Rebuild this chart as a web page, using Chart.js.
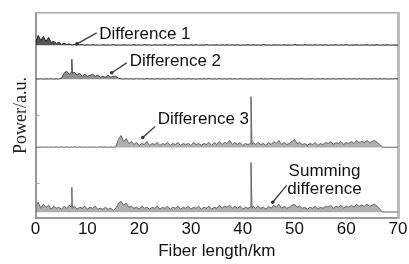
<!DOCTYPE html>
<html>
<head>
<meta charset="utf-8">
<script src="https://cdn.jsdelivr.net/npm/chart.js@4/dist/chart.umd.min.js"></script>
<style>
  html, body { margin: 0; padding: 0; background: #fff; }
  #chart { display: block; }
</style>
</head>
<body>
<canvas id="chart" width="409" height="264"></canvas>
<script>
(function () {
    'use strict';

    // =========================================================================
    // Data (arbitrary units)
    // =========================================================================

    var fiberKm = [
        0, 0.5, 1, 1.5, 2, 2.5, 3, 3.5, 4, 4.5,
        5, 5.5, 6, 6.5, 6.9, 7, 7.1, 7.5, 8, 8.5,
        9, 9.5, 10, 10.5, 11, 11.5, 12, 12.5, 13, 13.5,
        14, 14.5, 15, 15.5, 16, 16.5, 17, 17.5, 18, 18.5,
        19, 19.5, 20, 20.5, 21, 21.5, 22, 22.5, 23, 23.5,
        24, 24.5, 25, 25.5, 26, 26.5, 27, 27.5, 28, 28.5,
        29, 29.5, 30, 30.5, 31, 31.5, 32, 32.5, 33, 33.5,
        34, 34.5, 35, 35.5, 36, 36.5, 37, 37.5, 38, 38.5,
        39, 39.5, 40, 40.5, 41, 41.5, 41.6, 41.8, 42, 42.5,
        43, 43.5, 44, 44.5, 45, 45.5, 46, 46.5, 47, 47.5,
        48, 48.5, 49, 49.5, 50, 50.5, 51, 51.5, 52, 52.5,
        53, 53.5, 54, 54.5, 55, 55.5, 56, 56.5, 57, 57.5,
        58, 58.5, 59, 59.5, 60, 60.5, 61, 61.5, 62, 62.5,
        63, 63.5, 64, 64.5, 65, 65.5, 66, 66.5, 67, 67.5,
        68, 68.5, 69, 69.5, 70
    ];

    var difference1 = [
        3, 10, 5, 9, 4, 8, 3, 4, 2, 3,
        1, 2, 1, 1.5, 0.5, 1, 0.5, 1, 1.5, 0.5,
        0.8, 0.3, 0.6, 0.2, 0.7, 0.3, 0.5, 0.2, 0.6, 0.3,
        0.5, 0.2, 0.7, 0.3, 0.5, 0.2, 0.6, 0.3, 0.5, 0.2,
        0.6, 0.3, 0.5, 0.2, 0.7, 0.3, 0.5, 0.2, 0.6, 0.3,
        0.5, 0.3, 0.6, 0.2, 0.5, 0.3, 0.7, 0.2, 0.5, 0.3,
        0.6, 0.2, 0.5, 0.3, 0.6, 0.2, 0.5, 0.3, 0.7, 0.2,
        0.5, 0.3, 0.6, 0.2, 0.5, 0.3, 0.6, 0.2, 0.5, 0.3,
        0.6, 0.2, 0.5, 0.3, 0.6, 0.3, 0.5, 0.2, 0.6, 0.3,
        0.5, 0.2, 0.7, 0.3, 0.5, 0.2, 0.6, 0.3, 0.5, 0.2,
        0.6, 0.3, 0.5, 0.2, 0.7, 0.3, 0.5, 0.2, 0.6, 0.3,
        0.5, 0.3, 0.6, 0.2, 0.5, 0.3, 0.6, 0.2, 0.5, 0.3,
        0.6, 0.2, 0.5, 0.3, 0.7, 0.2, 0.5, 0.3, 0.6, 0.2,
        0.5, 0.3, 0.6, 0.2, 0.5, 0.3, 0.6, 0.2, 0.5, 0.3,
        0.6, 0.2, 0.5, 0.3, 0.4
    ];

    var difference2 = [
        0.4, 0.2, 0.5, 0.2, 0.4, 0.3, 0.5, 0.2, 0.4, 0.3,
        1, 6, 8, 5, 7, 20, 6, 7, 4, 6,
        3, 5, 3, 4, 5, 3, 4, 2, 3, 2,
        4, 2, 3, 3, 1, 0.5, 0.3, 0.6, 0.3, 0.5,
        0.2, 0.6, 0.3, 0.5, 0.2, 0.7, 0.3, 0.5, 0.2, 0.6,
        0.3, 0.5, 0.2, 0.6, 0.3, 0.5, 0.2, 0.7, 0.3, 0.5,
        0.2, 0.6, 0.3, 0.5, 0.2, 0.6, 0.3, 0.5, 0.2, 0.7,
        0.3, 0.5, 0.2, 0.6, 0.3, 0.5, 0.2, 0.6, 0.3, 0.5,
        0.2, 0.6, 0.3, 0.5, 0.2, 0.5, 0.3, 0.6, 0.2, 0.5,
        0.3, 0.6, 0.2, 0.5, 0.3, 0.7, 0.2, 0.5, 0.3, 0.6,
        0.2, 0.5, 0.3, 0.6, 0.2, 0.5, 0.3, 0.7, 0.2, 0.5,
        0.3, 0.6, 0.2, 0.5, 0.3, 0.6, 0.2, 0.5, 0.3, 0.6,
        0.2, 0.5, 0.3, 0.7, 0.2, 0.5, 0.3, 0.6, 0.2, 0.5,
        0.3, 0.6, 0.2, 0.5, 0.3, 0.6, 0.2, 0.5, 0.3, 0.6,
        0.2, 0.5, 0.3, 0.6, 0.4
    ];

    var difference3 = [
        0.5, 0.2, 0.6, 0.3, 0.5, 0.2, 0.6, 0.3, 0.5, 0.2,
        0.6, 0.3, 0.5, 0.2, 0.4, 0.6, 0.3, 0.5, 0.2, 0.6,
        0.3, 0.5, 0.2, 0.6, 0.3, 0.5, 0.2, 0.6, 0.3, 0.5,
        0.2, 0.6, 0.3, 0.8, 8, 12, 6, 9, 4, 6,
        3, 5, 2, 4, 3, 6, 2, 4, 3, 5,
        2, 4, 3, 5, 2, 4, 3, 5, 2, 4,
        3, 4, 2, 5, 3, 4, 2, 4, 3, 5,
        2, 5, 3, 6, 3, 5, 4, 7, 3, 5,
        3, 5, 2, 4, 3, 4, 51, 3, 5, 3,
        5, 3, 4, 2, 5, 3, 6, 4, 7, 3,
        5, 3, 4, 6, 8, 4, 5, 3, 4, 2,
        4, 3, 5, 2, 4, 3, 5, 4, 6, 3,
        5, 4, 6, 3, 5, 4, 6, 4, 7, 5,
        6, 5, 7, 5, 6, 7, 5, 3, 0.3, 0.2,
        0.2, 0.3, 0.2, 0.3, 0.2
    ];

    var summingDifference = [
        6, 10, 4, 8, 5, 7, 3, 6, 4, 5,
        3, 6, 4, 7, 5, 25, 4, 6, 3, 5,
        4, 6, 3, 5, 4, 6, 3, 4, 3, 5,
        3, 4, 2, 4, 9, 11, 7, 9, 5, 6,
        4, 5, 3, 6, 4, 5, 3, 5, 4, 6,
        3, 5, 4, 6, 3, 5, 4, 6, 3, 5,
        4, 6, 3, 5, 4, 6, 3, 5, 4, 6,
        3, 5, 4, 7, 4, 6, 5, 7, 4, 6,
        4, 6, 3, 5, 4, 5, 50, 4, 6, 4,
        6, 4, 5, 3, 6, 4, 7, 5, 8, 4,
        6, 4, 5, 7, 8, 5, 6, 4, 5, 3,
        5, 4, 6, 3, 5, 4, 6, 5, 7, 4,
        6, 5, 7, 4, 6, 5, 7, 5, 8, 6,
        7, 6, 8, 6, 7, 8, 6, 3, 0.3, 0.2,
        0.2, 0.3, 0.2, 0.3, 0.2
    ];

    var xTicks = [0, 10, 20, 30, 40, 50, 60, 70];
    var panel3Ticks = [32];
    var panel4Ticks = [29];

    // Callout labels: text anchor and leader line in km / panel units
    var notes = [
        { lines: ['Difference 1'], axis: 'y1', km: 21.1, val: 11.5, from: [11.8, 12.5], to: [8.0, 1.5] },
        { lines: ['Difference 2'], axis: 'y2', km: 27.0, val: 18.5, from: [17.6, 16.5], to: [14.7, 6.5] },
        { lines: ['Difference 3'], axis: 'y3', km: 32.4, val: 28, from: [23.1, 21], to: [20.7, 10] },
        { lines: ['Summing', 'difference'], axis: 'y4', km: 55.8, val: 41, from: [48.5, 27], to: [45.8, 10] }
    ];

    // =========================================================================
    // Helpers
    // =========================================================================

    function toPoints(values) {
        return fiberKm.map(function (km, i) { return { x: km, y: values[i] }; });
    }

    function tickList(values) {
        return function (scale) {
            scale.ticks = values.map(function (v) { return { value: v }; });
        };
    }

    function panelAxis(weight, min, max, ticks) {
        return {
            type: 'linear',
            position: 'left',
            stack: 'power',
            stackWeight: max - min,
            weight: weight,
            min: min,
            max: max,
            ticks: { display: false },
            grid: {
                drawOnChartArea: false,
                drawTicks: ticks.length > 0,
                tickLength: -4,
                color: '#aaa',
                lineWidth: 1
            },
            border: { color: '#999', width: 2 },
            afterBuildTicks: tickList(ticks),
            afterFit: function (scale) { scale.width = 0; }
        };
    }

    function trace(label, values, axis, color, fill) {
        return {
            label: label,
            data: toPoints(values),
            xAxisID: 'x',
            yAxisID: axis,
            borderColor: color,
            backgroundColor: fill || 'transparent',
            fill: fill ? 'origin' : false,
            borderWidth: 1,
            pointRadius: 0,
            tension: 0
        };
    }

    // =========================================================================
    // Callout plugin
    // =========================================================================

    var calloutPlugin = {
        id: 'callouts',
        afterDatasetsDraw: function (chart) {
            var ctx = chart.ctx;
            var xs = chart.scales.x;
            notes.forEach(function (note) {
                var ys = chart.scales[note.axis];
                var x0 = xs.getPixelForValue(note.from[0]);
                var y0 = ys.getPixelForValue(note.from[1]);
                var x1 = xs.getPixelForValue(note.to[0]);
                var y1 = ys.getPixelForValue(note.to[1]);
                ctx.save();
                ctx.strokeStyle = '#444';
                ctx.lineWidth = 1.4;
                ctx.beginPath();
                ctx.moveTo(x0, y0);
                ctx.lineTo(x1, y1);
                ctx.stroke();
                ctx.fillStyle = '#333';
                ctx.beginPath();
                ctx.arc(x1, y1, 1.8, 0, Math.PI * 2);
                ctx.fill();
                ctx.fillStyle = '#111';
                ctx.font = '17px "Liberation Sans", Arial, sans-serif';
                ctx.textAlign = 'center';
                ctx.textBaseline = 'middle';
                note.lines.forEach(function (line, i) {
                    ctx.fillText(line, xs.getPixelForValue(note.km), ys.getPixelForValue(note.val) + i * 18);
                });
                ctx.restore();
            });
        }
    };

    // =========================================================================
    // Chart
    // =========================================================================

    new Chart(document.getElementById('chart'), {
        type: 'line',
        data: {
            datasets: [
                trace('Difference 1', difference1, 'y1', '#222', 'rgba(30,30,30,0.75)'),
                trace('Difference 2', difference2, 'y2', '#444', 'rgba(70,70,70,0.6)'),
                trace('Difference 3', difference3, 'y3', '#666', 'rgba(110,110,110,0.55)'),
                trace('Summing difference', summingDifference, 'y4', '#666', 'rgba(110,110,110,0.55)')
            ]
        },
        plugins: [calloutPlugin],
        options: {
            responsive: false,
            animation: false,
            layout: { padding: { left: 10, right: 11, top: 13, bottom: 2 } },
            plugins: {
                legend: { display: false },
                tooltip: { enabled: false }
            },
            scales: {
                x: {
                    type: 'linear',
                    position: 'bottom',
                    min: 0,
                    max: 70,
                    afterBuildTicks: tickList(xTicks),
                    grid: { drawOnChartArea: false, drawTicks: false },
                    border: { color: '#999', width: 2 },
                    ticks: {
                        color: '#111',
                        padding: 1,
                        maxRotation: 0,
                        autoSkip: false,
                        font: { family: '"Liberation Sans", Arial, sans-serif', size: 17 }
                    },
                    title: {
                        display: true,
                        text: 'Fiber length/km',
                        color: '#111',
                        padding: { top: 1, bottom: 0 },
                        font: { family: '"Liberation Sans", Arial, sans-serif', size: 17 }
                    }
                },
                xTop: {
                    type: 'linear',
                    position: 'top',
                    min: 0,
                    max: 70,
                    ticks: { display: false },
                    grid: { drawOnChartArea: false, drawTicks: false },
                    border: { color: '#aaa', width: 1.5 },
                    afterFit: function (scale) { scale.height = 0; }
                },
                yTitle: {
                    type: 'linear',
                    position: 'left',
                    weight: 10,
                    min: 0,
                    max: 1,
                    ticks: { display: false },
                    grid: { display: false, drawTicks: false },
                    border: { display: false },
                    title: {
                        display: true,
                        text: 'Power/a.u.',
                        color: '#222',
                        padding: { top: 0, bottom: 4 },
                        font: { family: '"Liberation Serif", "Times New Roman", serif', size: 18 }
                    }
                },
                y1: panelAxis(4, -1.5, 32.5, []),
                y2: panelAxis(3, -2.5, 32.5, []),
                y3: panelAxis(2, -2, 66, panel3Ticks),
                y4: panelAxis(1, -6, 63, panel4Ticks),
                yRight: {
                    type: 'linear',
                    position: 'right',
                    min: 0,
                    max: 1,
                    ticks: { display: false },
                    grid: { drawOnChartArea: false, drawTicks: false },
                    border: { color: '#bbb', width: 3 },
                    afterFit: function (scale) { scale.width = 0; }
                }
            }
        }
    });
})();
</script>
</body>
</html>
